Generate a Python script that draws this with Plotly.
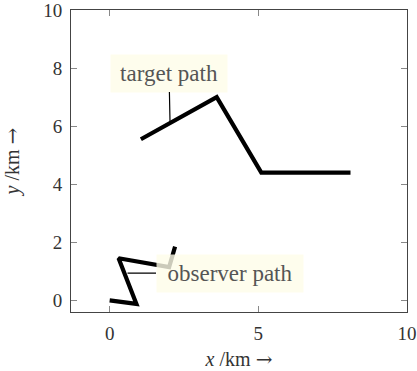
import plotly.graph_objects as go

# Path coordinates in km
target_x = [1.05, 3.6, 5.1, 8.1]
target_y = [5.55, 7.0, 4.4, 4.4]
observer_x = [0.0, 0.9, 0.3, 2.0, 2.2]
observer_y = [0.0, -0.12, 1.45, 1.15, 1.85]

# Label anchor points on the paths and their texts
label_texts = ["target path", "observer path"]
label_px = [2.03, 0.6]
label_py = [6.14, 0.94]

x_ticks = [0, 5, 10]
y_ticks = [0, 2, 4, 6, 8, 10]

serif = "Liberation Serif, Times New Roman, serif"
arrow = '<span style="font-family:DejaVu Serif">→</span>'

fig = go.Figure()
fig.add_trace(go.Scatter(x=target_x, y=target_y, mode="lines",
                         line=dict(color="black", width=4.2), hoverinfo="skip"))
fig.add_trace(go.Scatter(x=observer_x, y=observer_y, mode="lines",
                         line=dict(color="black", width=4.2), hoverinfo="skip"))

box_fill = "rgba(254,252,232,0.8)"
fig.add_annotation(x=label_px[0], y=label_py[0], text=label_texts[0],
                   showarrow=True, arrowhead=0, arrowwidth=1.2, arrowcolor="black",
                   ax=-1, ay=-49, bgcolor=box_fill, borderpad=4, width=108, height=29,
                   font=dict(family=serif, size=23, color="#555555"))
fig.add_annotation(x=label_px[1], y=label_py[1], text=label_texts[1],
                   showarrow=True, arrowhead=0, arrowwidth=1.2, arrowcolor="black",
                   ax=102, ay=0, bgcolor=box_fill, borderpad=4, width=138, height=29,
                   font=dict(family=serif, size=23, color="#555555"))

axis_common = dict(
    showgrid=False, zeroline=False, showline=True, linecolor="#444444", linewidth=1,
    mirror="allticks", ticks="inside", ticklen=6, tickcolor="#888888", tickwidth=1,
    tickfont=dict(family=serif, size=19, color="#333333"), automargin=False,
    ticklabeloverflow="allow",
)

title_font = dict(family=serif, size=20, color="#333333")
fig.update_xaxes(range=[-1.3, 10], tickvals=x_ticks, ticklabelstandoff=4,
                 title=dict(text="<i>x</i> /km " + arrow, font=title_font, standoff=12),
                 **axis_common)
fig.update_yaxes(range=[-0.4, 10], tickvals=y_ticks, ticklabelstandoff=4,
                 title=dict(text="<i>y</i> /km " + arrow, font=title_font, standoff=30),
                 **axis_common)

fig.update_layout(
    width=417, height=371,
    margin=dict(l=71, r=10, t=10, b=59),
    plot_bgcolor="white", paper_bgcolor="white",
    showlegend=False,
)

fig.write_html("out.html")
